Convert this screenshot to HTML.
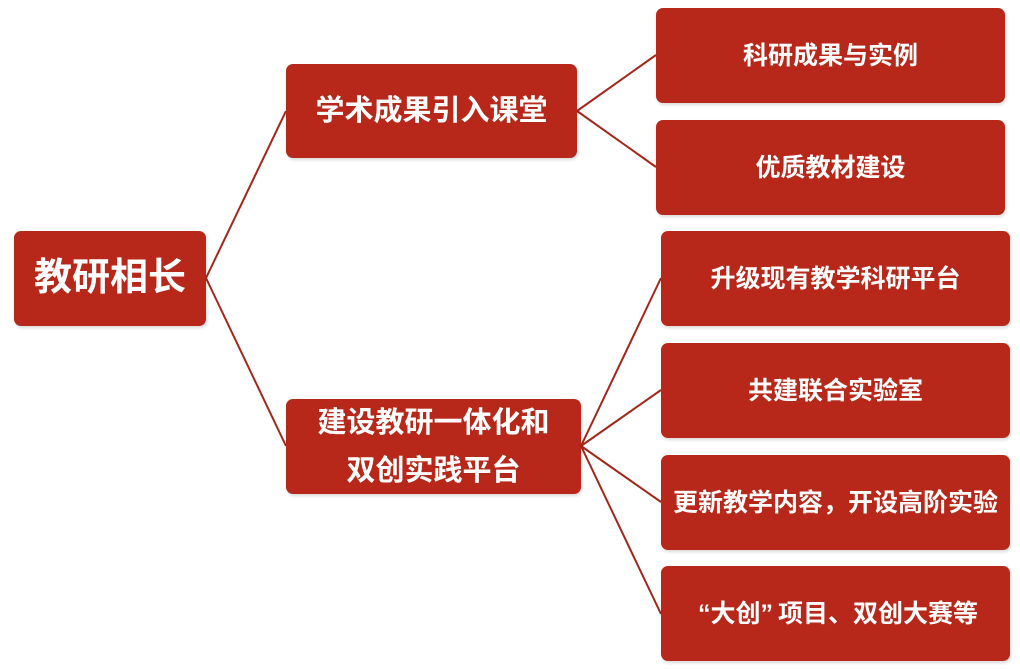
<!DOCTYPE html>
<html><head><meta charset="utf-8"><style>
html,body{margin:0;padding:0;background:#fff;}
body{width:1020px;height:669px;position:relative;overflow:hidden;font-family:"Liberation Sans","Noto Sans CJK SC",sans-serif;}
.b{position:absolute;background:#B8281A;border-radius:7px;color:#fff;font-weight:bold;display:flex;align-items:center;justify-content:center;text-align:center;font-size:25px;line-height:1.6;box-shadow:1px 2px 3px rgba(0,0,0,0.15);white-space:nowrap;}
svg{position:absolute;left:0;top:0;}
</style></head><body>
<svg width="1020" height="669"><g stroke="#A3261A" stroke-width="2" fill="none">
<path d="M206 278 L286 111 M206 278 L286 446"/>
<path d="M577 111 L656 55 M577 111 L656 167"/>
<path d="M581 446 L661 278 M581 446 L661 390 M581 446 L661 502 M581 446 L661 614"/>
</g></svg>
<div class="b" style="left:14px;top:231px;width:192px;height:95px;font-size:38px;">教研相长</div>
<div class="b" style="left:286px;top:64px;width:291px;height:94px;font-size:29px;">学术成果引入课堂</div>
<div class="b" style="left:286px;top:399px;width:295px;height:95px;font-size:29px;line-height:48px;">建设教研一体化和<br>双创实践平台</div>
<div class="b" style="left:656px;top:8px;width:349px;height:95px;">科研成果与实例</div>
<div class="b" style="left:656px;top:120px;width:349px;height:95px;">优质教材建设</div>
<div class="b" style="left:661px;top:231px;width:349px;height:95px;">升级现有教学科研平台</div>
<div class="b" style="left:661px;top:343px;width:349px;height:95px;">共建联合实验室</div>
<div class="b" style="left:661px;top:455px;width:349px;height:95px;">更新教学内容，开设高阶实验</div>
<div class="b" style="left:661px;top:566px;width:349px;height:95px;">&thinsp;“大创”&thinsp;项目、双创大赛等</div>
</body></html>
